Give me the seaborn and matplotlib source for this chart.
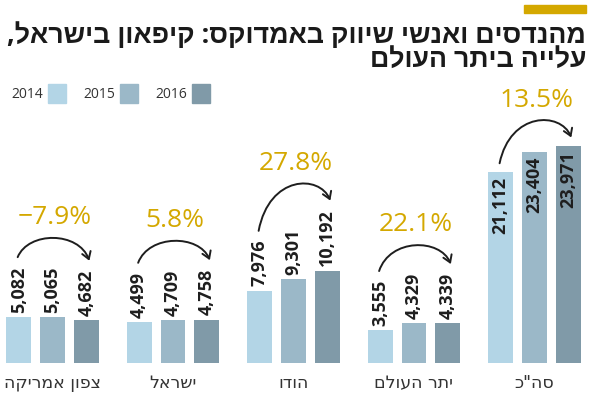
import numpy as np
import pandas as pd
import seaborn as sns
import matplotlib.pyplot as plt
from matplotlib.patches import Rectangle, FancyArrowPatch
from matplotlib.path import Path
from matplotlib.transforms import IdentityTransform

# נתונים
regions = ['צפון אמריקה', 'ישראל', 'הודו', 'יתר העולם', 'סה"כ']
years = ['2014', '2015', '2016']
v2014 = [5082, 4499, 7976, 3555, 21112]
v2015 = [5065, 4709, 9301, 4329, 23404]
v2016 = [4682, 4758, 10192, 4339, 23971]
changes = ['\u22127.9%', '5.8%', '27.8%', '22.1%', '13.5%']
title_lines = ['מהנדסים ואנשי שיווק באמדוקס: קיפאון בישראל,', 'עלייה ביתר העולם']

colors = ['#b3d5e6', '#9bb8c8', '#809aa8']
gold = '#d4a800'
dark = '#1e1e1e'
fonts = ['Open Sans', 'Liberation Sans', 'DejaVu Sans']


def heb(s):
    # matplotlib מצייר משמאל לימין, לכן הופכים את הסדר
    return s[::-1]


sns.set_style('white')
plt.rcParams['font.family'] = fonts

df = pd.DataFrame({
    'region': regions * 3,
    'year': np.repeat(years, len(regions)),
    'value': v2014 + v2015 + v2016,
})

W, H = 590, 399
fig = plt.figure(figsize=(W / 100, H / 100), dpi=100)
base_px = 36.5
ax = fig.add_axes([0, base_px / H, 1, 1 - base_px / H])

sns.barplot(data=df, x='region', y='value', hue='year', order=regions,
            hue_order=years, palette=colors, width=0.843, gap=0.265,
            saturation=1, linewidth=0, errorbar=None, legend=False, ax=ax)

ax.set_xlim(-0.436, 4.461)
ax.set_ylim(0, (H - base_px) / 0.009011)
sns.despine(ax=ax, left=True, bottom=True)
ax.set_yticks([])
ax.set_xlabel('')
ax.set_ylabel('')
ax.set_xticks(range(len(regions)))
ax.set_xticklabels([heb(r) for r in regions], fontsize=12.5, color='#333333',
                   family=['DejaVu Sans'])
ax.tick_params(axis='x', length=0, pad=8.5)

# תוויות ערכים
labels = []
for cont, vals in zip(ax.containers, [v2014, v2015, v2016]):
    row = []
    for bar, v in zip(cont, vals):
        x = bar.get_x() + bar.get_width() / 2
        h = bar.get_height()
        inside = v > 15000
        t = ax.annotate(f'{v:,}', (x, h), xytext=(0, -3.5 if inside else 3),
                        textcoords='offset points', rotation=90, ha='center',
                        va='top' if inside else 'bottom', fontsize=13,
                        fontweight='bold', color=dark)
        row.append((t, x, h, inside))
    labels.append(row)

fig.canvas.draw()
renderer = fig.canvas.get_renderer()


def top_px(item):
    t, x, h, inside = item
    if inside:
        return ax.transData.transform((x, h))[1]
    return t.get_window_extent(renderer).y1


# חיצים ואחוזי שינוי
lift = 26
for i, ch in enumerate(changes):
    first, last = labels[0][i], labels[2][i]
    x0 = ax.transData.transform((first[1], 0))[0] - 1
    x1 = ax.transData.transform((last[1], 0))[0] + 3
    y0 = top_px(first) + 9
    y1 = top_px(last) + 9
    dx = x1 - x0
    c = max(y0, y1) + lift
    path = Path([(x0, y0), (x0 + 0.15 * dx, c), (x1 - 0.15 * dx, c), (x1, y1)],
                [Path.MOVETO, Path.CURVE4, Path.CURVE4, Path.CURVE4])
    arr = FancyArrowPatch(path=path, arrowstyle='->,head_length=5,head_width=3.2',
                          color=dark, lw=1.4, transform=IdentityTransform())
    fig.add_artist(arr)
    peak = (y0 + y1 + 6 * c) / 8
    cx = ax.transData.transform((i, 0))[0] + 2
    fig.text(cx / W, (peak + 21) / H, ch, ha='center', va='center',
             fontsize=19, color=gold)

# מקרא
for k, (yr, c) in enumerate(zip(years, colors)):
    sx = 48 + k * 72
    fig.patches.append(Rectangle((sx / W, 1 - 103 / H), 18 / W, 19 / H,
                                 transform=fig.transFigure, color=c))
    fig.text((sx - 5) / W, 1 - 94 / H, yr, ha='right', va='center',
             fontsize=10, color='#333333')

# כותרת
fig.patches.append(Rectangle((524 / W, 1 - 13 / H), 62 / W, 8 / H,
                             transform=fig.transFigure, color=gold))
for line, base in zip(title_lines, [43, 67]):
    fig.text(586 / W, 1 - base / H, heb(line), ha='right', va='baseline',
             fontsize=19.3, fontweight='bold', color='#1a1a1a')

fig.savefig('out.png', dpi=100)
